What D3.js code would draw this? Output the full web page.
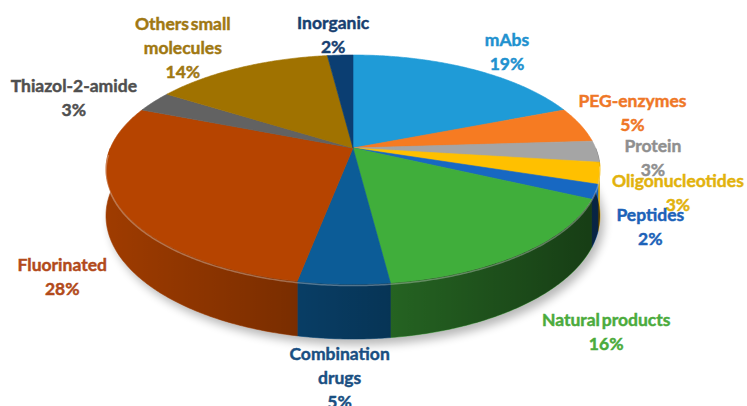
<!DOCTYPE html>
<html lang="en">
<head>
<meta charset="UTF-8">
<title>3D pie</title>
<style>
  html, body { margin: 0; padding: 0; background: #fff; }
  svg { display: block; }
  .lbl { font-family: Lato, "Open Sans", sans-serif; font-weight: 700; font-size: 17.5px; word-spacing: -2.5px; }
</style>
</head>
<body>
<div id="chart"></div>
<script src="https://cdn.jsdelivr.net/npm/d3@7/dist/d3.min.js"></script>
<script>
"use strict";

// data
const categories = ["mAbs", "PEG-enzymes", "Protein", "Oligonucleotides", "Peptides",
  "Natural products", "Combination drugs", "Fluorinated", "Thiazol-2-amide",
  "Others small molecules", "Inorganic"];
const values = [19, 5, 3, 3, 2, 16, 5, 28, 3, 14, 2];
const labelLines = [["mAbs"], ["PEG-enzymes"], ["Protein"], ["Oligonucleotides"], ["Peptides"],
  ["Natural products"], ["Combination", "drugs"], ["Fluorinated"], ["Thiazol-2-amide"],
  ["Others small", "molecules"], ["Inorganic"]];

// styles
const sliceColors = ["#1f9bd7", "#f67b22", "#a5a5a5", "#ffc000", "#1768c2", "#40ae3b",
  "#0c5c97", "#b64400", "#626262", "#a07200", "#0b3e72"];
const labelColors = ["#2191cf", "#ef7727", "#8f8f8f", "#e2b20c", "#1c62b8", "#4bab3c",
  "#1a4f82", "#b24a1b", "#4f4f4f", "#a07812", "#173f70"];
// label offset from the rim point at each slice's middle
const labelOffset = [[36, -17], [52, -12], [56, 6], [78, 19], [55, 35], [85, 78],
  [-4, 93], [-57, 70], [-80, -4], [-58, -20], [-7, -21]];

const W = 747, H = 406;
const cx = 353, cy = 148, rx = 242.6, ry = 110.5, persp = 0.188, depth = 44.6;

const svg = d3.select("#chart").append("svg").attr("width", W).attr("height", H);
const defs = svg.append("defs");

defs.append("filter").attr("id", "blur").attr("x", "-20%").attr("y", "-20%")
  .attr("width", "140%").attr("height", "140%")
  .append("feGaussianBlur").attr("stdDeviation", 5);

const grad = defs.append("linearGradient").attr("id", "wallShade")
  .attr("gradientUnits", "userSpaceOnUse")
  .attr("x1", cx - rx).attr("x2", cx + rx).attr("y1", 0).attr("y2", 0);
grad.append("stop").attr("offset", 0).attr("stop-color", "#000").attr("stop-opacity", 0.05);
grad.append("stop").attr("offset", 1).attr("stop-color", "#000").attr("stop-opacity", 0.62);

// perspective projection of a point on the disc: t = screen angle, r = radius fraction, z = 0 top / 1 bottom
function proj(t, r, z) {
  const sn = Math.sin(t), s = 1 / (1 - persp * r * sn);
  return [cx + rx * r * Math.cos(t) * s, cy + (ry * r * sn + depth * z) * s];
}
const toT = a => a - Math.PI / 2;
const line = d3.line();
function arcPts(t0, t1, z) {
  const n = Math.max(2, Math.ceil(Math.abs(t1 - t0) / 0.01));
  return d3.range(n + 1).map(i => proj(t0 + (t1 - t0) * i / n, 1, z));
}

const arcs = d3.pie().sort(null).value(d => d)(values);

// shadow
svg.append("path")
  .attr("d", line(arcPts(0, 2 * Math.PI, 1)) + "Z")
  .attr("transform", "translate(4,6)")
  .attr("fill", "#000").attr("opacity", 0.28)
  .attr("filter", "url(#blur)");

// side walls (front half only)
const walls = svg.append("g");
arcs.forEach((d, i) => {
  const t0 = Math.max(toT(d.startAngle), 0), t1 = Math.min(toT(d.endAngle), Math.PI);
  if (t1 <= t0) return;
  const pts = arcPts(t0, t1, 0).concat(arcPts(t1, t0, 1));
  walls.append("path")
    .attr("d", line(pts) + "Z")
    .attr("fill", d3.color(sliceColors[i]).darker(0.25))
    .attr("stroke", d3.color(sliceColors[i]).darker(0.25)).attr("stroke-width", 0.6);
});
walls.append("path")
  .attr("d", line(arcPts(0, Math.PI, 0).concat(arcPts(Math.PI, 0, 1))) + "Z")
  .attr("fill", "url(#wallShade)");

// top faces
const faces = svg.append("g");
arcs.forEach((d, i) => {
  const pts = [[cx, cy]].concat(arcPts(toT(d.startAngle), toT(d.endAngle), 0));
  faces.append("path")
    .attr("d", line(pts) + "Z")
    .attr("fill", sliceColors[i])
    .attr("stroke", sliceColors[i]).attr("stroke-width", 0.6);
});

// rim highlight along the front edge
svg.append("path")
  .attr("d", line(arcPts(0.15, Math.PI - 0.05, 0)))
  .attr("fill", "none").attr("stroke", "#fff").attr("stroke-opacity", 0.3).attr("stroke-width", 1.5)
  .attr("transform", "translate(0,1.5)");

// labels
const lh = 24;
const labels = svg.append("g");
arcs.forEach((d, i) => {
  const p = proj(toT((d.startAngle + d.endAngle) / 2), 1, 0);
  const x = p[0] + labelOffset[i][0], y = p[1] + labelOffset[i][1];
  const lines = labelLines[i].concat([values[i] + "%"]);
  const y0 = y - (lines.length - 1) * lh / 2;
  const t = labels.append("text").attr("class", "lbl")
    .attr("text-anchor", "middle").attr("fill", labelColors[i])
    .attr("stroke", labelColors[i]).attr("stroke-width", 0.45);
  lines.forEach((s, j) => {
    t.append("tspan").attr("x", x).attr("y", y0 + j * lh)
      .attr("dominant-baseline", "central").text(s);
  });
});
</script>
</body>
</html>
